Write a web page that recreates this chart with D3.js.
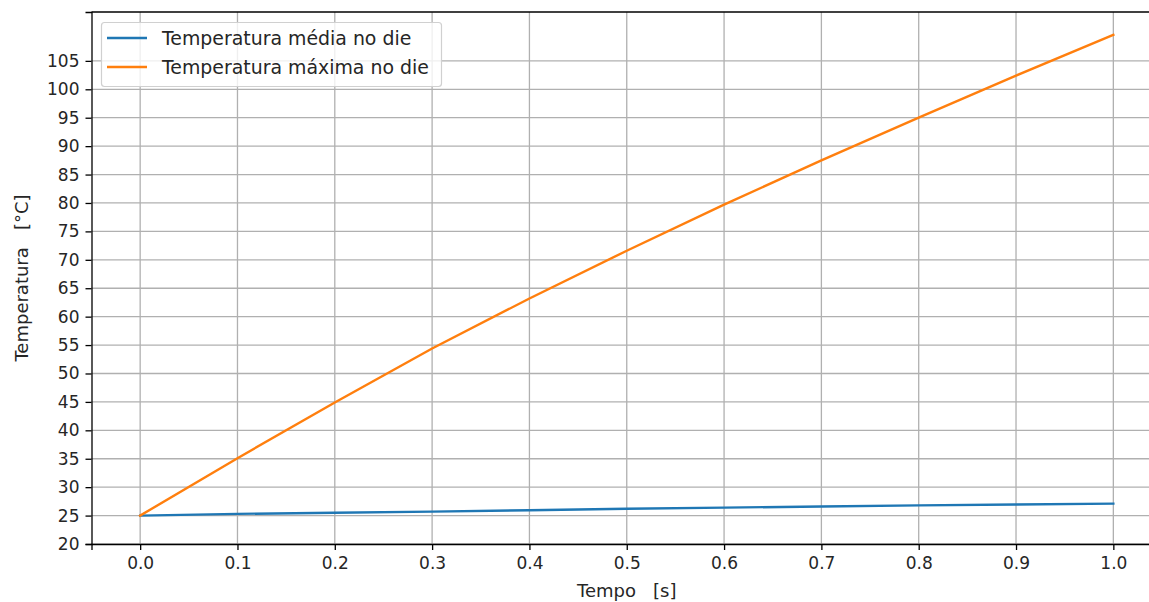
<!DOCTYPE html>
<html>
<head>
<meta charset="utf-8">
<script src="https://cdn.jsdelivr.net/npm/d3@7"></script>
<style>
  body { margin: 0; background: #fff; }
  svg { display: block; font-family: "DejaVu Sans", sans-serif; }
</style>
</head>
<body>
<svg id="chart" width="1149" height="602"></svg>
<script>
// values
var tempo = [0.0, 0.1, 0.2, 0.3, 0.4, 0.5, 0.6, 0.7, 0.8, 0.9, 1.0];
var tempMedia = [25.0, 25.3, 25.5, 25.7, 25.95, 26.2, 26.4, 26.6, 26.8, 26.95, 27.1];
var tempMaxima = [25.0, 35.1, 44.9, 54.4, 63.2, 71.6, 79.7, 87.5, 95.0, 102.4, 109.6];

var xTicks = [0.0, 0.1, 0.2, 0.3, 0.4, 0.5, 0.6, 0.7, 0.8, 0.9, 1.0];
var yTicks = [20, 25, 30, 35, 40, 45, 50, 55, 60, 65, 70, 75, 80, 85, 90, 95, 100, 105];

var seriesNames = ["Temperatura média no die", "Temperatura máxima no die"];
var seriesColors = ["#1f77b4", "#ff7f0e"];

// plot box (the right spine falls just outside the picture, as in the reference)
var plotLeft = 91.5, plotRight = 1162, plotTop = 12, plotBottom = 544;

var svg = d3.select("#chart");

var x = d3.scaleLinear().domain([-0.05, 1.05]).range([plotLeft, plotRight]);
var y = d3.scaleLinear().domain([20, 113.6]).range([plotBottom, plotTop]);

// grid
var grid = svg.append("g").attr("stroke", "#b0b0b0").attr("stroke-width", 1.3);
grid.selectAll(".gx")
    .data(xTicks)
    .enter().append("line")
    .attr("x1", function (d) { return x(d); })
    .attr("x2", function (d) { return x(d); })
    .attr("y1", plotTop)
    .attr("y2", plotBottom);
grid.selectAll(".gy")
    .data(yTicks)
    .enter().append("line")
    .attr("x1", plotLeft)
    .attr("x2", plotRight)
    .attr("y1", function (d) { return y(d); })
    .attr("y2", function (d) { return y(d); });

// lines
var line = d3.line()
    .x(function (d) { return x(d[0]); })
    .y(function (d) { return y(d[1]); });

[tempMedia, tempMaxima].forEach(function (vals, i) {
    svg.append("path")
        .datum(d3.zip(tempo, vals))
        .attr("d", line)
        .attr("fill", "none")
        .attr("stroke", seriesColors[i])
        .attr("stroke-width", 2.4)
        .attr("stroke-linecap", "square");
});

// axes
var xAxis = svg.append("g")
    .attr("transform", "translate(0," + plotBottom + ")")
    .call(d3.axisBottom(x).tickValues(xTicks).tickFormat(d3.format(".1f")).tickSizeOuter(0).tickSize(6).tickPadding(7));

var yAxis = svg.append("g")
    .attr("transform", "translate(" + plotLeft + ",0)")
    .call(d3.axisLeft(y).tickValues(yTicks).tickFormat(d3.format("d")).tickSizeOuter(0).tickSize(6).tickPadding(6));

[xAxis, yAxis].forEach(function (ax) {
    ax.select(".domain").attr("stroke", "#000").attr("stroke-width", 1.3);
    ax.selectAll(".tick line").attr("stroke", "#000").attr("stroke-width", 1.3);
    ax.selectAll(".tick text")
        .attr("fill", "#262626")
        .style("font-family", "DejaVu Sans")
        .style("font-size", "17px");
});

// top and right spines
svg.append("line").attr("x1", plotLeft).attr("x2", plotRight).attr("y1", plotTop).attr("y2", plotTop)
    .attr("stroke", "#000").attr("stroke-width", 1.3);
svg.append("line").attr("x1", plotRight).attr("x2", plotRight).attr("y1", plotTop).attr("y2", plotBottom)
    .attr("stroke", "#000").attr("stroke-width", 1.3);

// axis labels
svg.append("text")
    .attr("x", (plotLeft + plotRight) / 2)
    .attr("y", 597)
    .attr("text-anchor", "middle")
    .attr("font-size", "18px")
    .attr("fill", "#262626")
    .attr("xml:space", "preserve")
    .text("Tempo   [s]");

svg.append("text")
    .attr("transform", "translate(28," + ((plotTop + plotBottom) / 2) + ") rotate(-90)")
    .attr("text-anchor", "middle")
    .attr("font-size", "18px")
    .attr("fill", "#262626")
    .attr("xml:space", "preserve")
    .text("Temperatura   [°C]");

// legend
var legend = svg.append("g");
legend.append("rect")
    .attr("x", 101.5)
    .attr("y", 22.5)
    .attr("width", 340)
    .attr("height", 64)
    .attr("rx", 3)
    .attr("fill", "#fff")
    .attr("fill-opacity", 0.8)
    .attr("stroke", "#d0d0d0")
    .attr("stroke-width", 1.2);

seriesNames.forEach(function (name, i) {
    var ly = 38 + i * 29;
    legend.append("line")
        .attr("x1", 107).attr("x2", 147)
        .attr("y1", ly).attr("y2", ly)
        .attr("stroke", seriesColors[i])
        .attr("stroke-width", 2.4);
    legend.append("text")
        .attr("x", 162)
        .attr("y", ly)
        .attr("dy", "0.35em")
        .attr("font-size", "18.9px")
        .attr("fill", "#262626")
        .text(name);
});
</script>
</body>
</html>
